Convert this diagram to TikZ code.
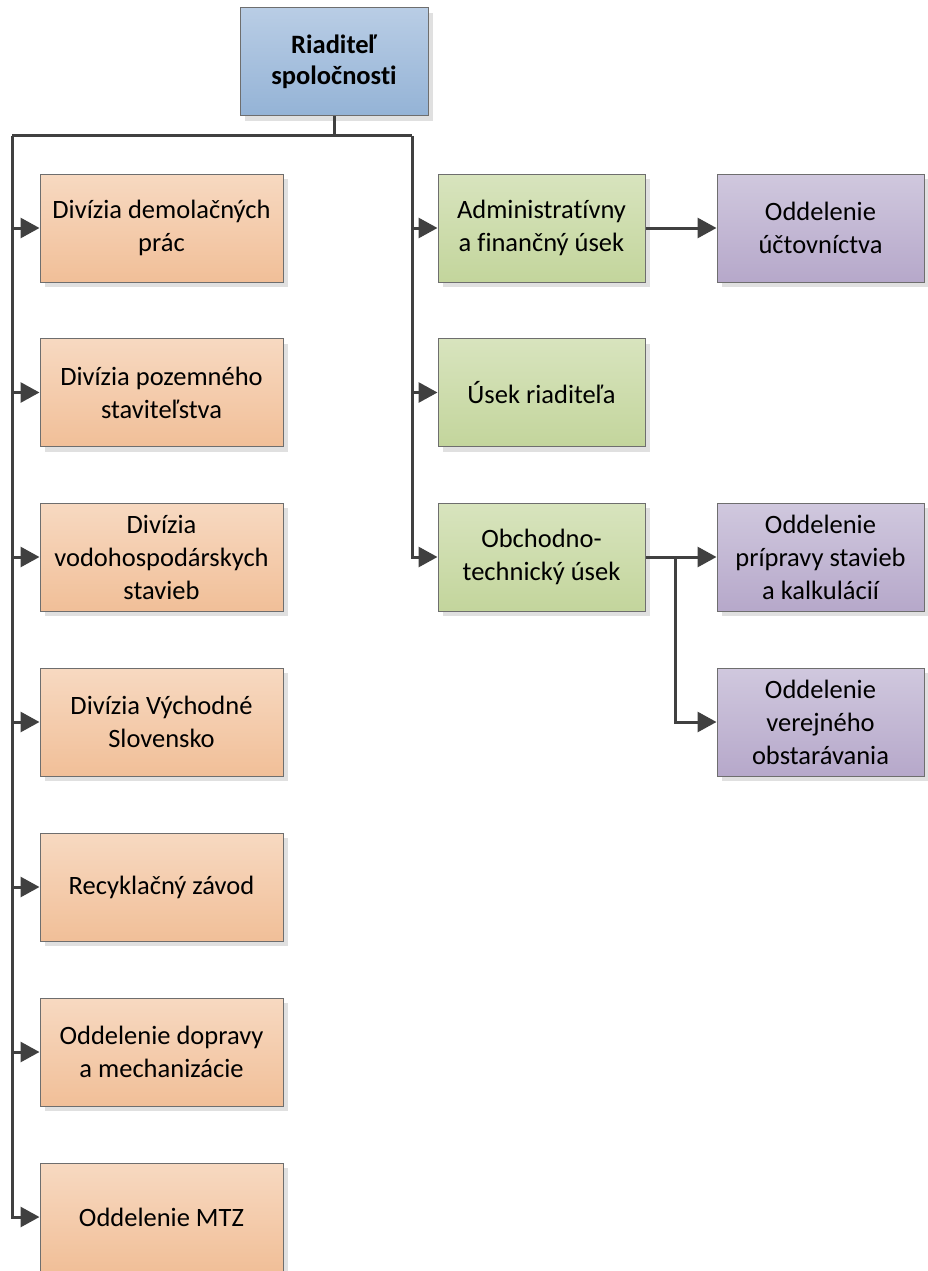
\documentclass[tikz,border=0pt]{standalone}
\usepackage{fontspec}
\setmainfont{Carlito}[Ligatures=NoCommon]
\usetikzlibrary{arrows.meta,shadows}
\definecolor{lnc}{HTML}{404040}
\definecolor{bdc}{HTML}{6E6E6E}
\definecolor{blueT}{HTML}{B9CDE5}
\definecolor{blueB}{HTML}{94B3D6}
\definecolor{orT}{HTML}{F7D9C1}
\definecolor{orB}{HTML}{F1BF98}
\definecolor{grT}{HTML}{D8E4BE}
\definecolor{grB}{HTML}{C3D59C}
\definecolor{puT}{HTML}{D0C8DE}
\definecolor{puB}{HTML}{B6A8CA}
\tikzset{
  x=1pt,y=-1pt,
  box/.style={draw=bdc, line width=1pt, minimum height=108pt, align=center,
    font=\fontsize{26.5}{33}\selectfont, text=black,
    drop shadow={shadow xshift=5pt, shadow yshift=-5pt, fill=black!12, opacity=1}},
  bluebox/.style={box, minimum width=188pt, top color=blueT, bottom color=blueB, font=\fontsize{26.5}{31}\selectfont\bfseries},
  orbox/.style={box, minimum width=243pt, top color=orT, bottom color=orB},
  grbox/.style={box, minimum width=207pt, top color=grT, bottom color=grB},
  pubox/.style={box, minimum width=207pt, top color=puT, bottom color=puB},
  conn/.style={draw=lnc, line width=3pt},
  arr/.style={conn, -{Triangle[length=19pt,width=20pt]}}
}
\begin{document}
\begin{tikzpicture}
\useasboundingbox (0,0) rectangle (928,1271);
\node[bluebox] (ceo) at (334,62) {Riaditeľ\\spoločnosti};
% left column
\node[orbox] (o1) at (161.5,228) {Divízia demolačných\\prác};
\node[orbox] (o2) at (161.5,392.5) {Divízia pozemného\\staviteľstva};
\node[orbox] (o3) at (161.5,557) {Divízia\\vodohospodárskych\\stavieb};
\node[orbox] (o4) at (161.5,722) {Divízia Východné\\Slovensko};
\node[orbox] (o5) at (161.5,887) {Recyklačný závod};
\node[orbox] (o6) at (161.5,1052) {Oddelenie dopravy\\a mechanizácie};
\node[orbox] (o7) at (161.5,1217) {Oddelenie MTZ};
% middle column
\node[grbox] (g1) at (541.5,228) {Administratívny\\a finančný úsek};
\node[grbox] (g2) at (541.5,392.5) {Úsek riaditeľa};
\node[grbox] (g3) at (541.5,557) {Obchodno-\\technický úsek};
% right column
\node[pubox] (p1) at (820.5,228) {Oddelenie\\účtovníctva};
\node[pubox] (p2) at (820.5,557) {Oddelenie\\prípravy stavieb\\a kalkulácií};
\node[pubox] (p3) at (820.5,722) {Oddelenie\\verejného\\obstarávania};
% connectors
\coordinate (bus) at (334,136);
\coordinate (lt) at (12,136);
\coordinate (mt) at (412,136);
\draw[conn] (ceo.south) -- (bus);
\draw[conn] (lt) -- (mt);
\foreach \n in {o1,o2,o3,o4,o5,o6}
  \draw[arr] (lt |- \n.west) -- (\n.west);
\draw[arr] (lt) -- (lt |- o7.west) -- (o7.west);
\foreach \n in {g1,g2}
  \draw[arr] (mt |- \n.west) -- (\n.west);
\draw[arr] (mt) -- (mt |- g3.west) -- (g3.west);
\draw[arr] (g1.east) -- (p1.west);
\coordinate (br) at (675,557);
\draw[arr] (g3.east) -- (p2.west);
\draw[arr] (br) -- (br |- p3.west) -- (p3.west);
\end{tikzpicture}
\end{document}
